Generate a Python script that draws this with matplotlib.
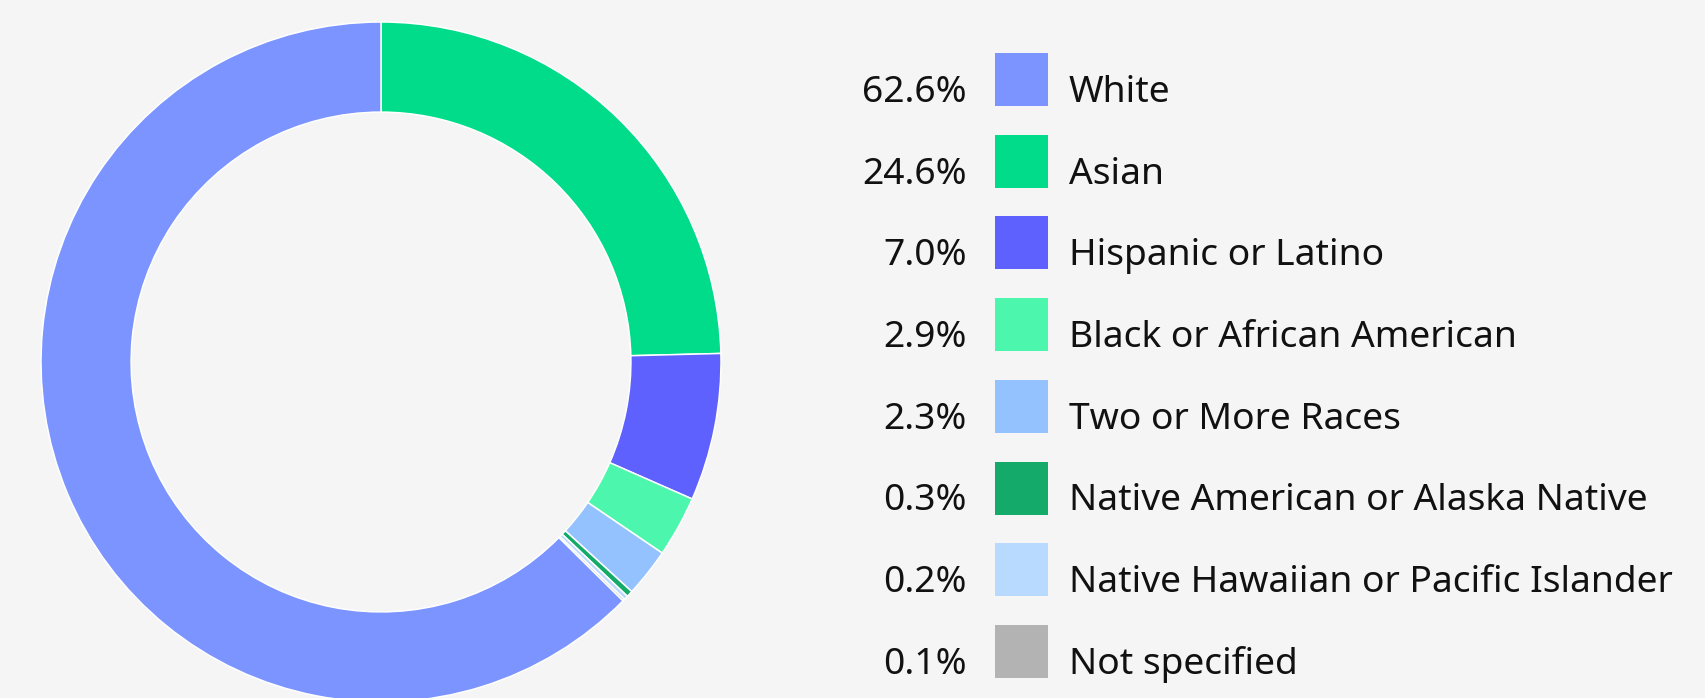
import matplotlib
matplotlib.use("Agg")
import matplotlib.pyplot as plt

categories = ["White", "Asian", "Hispanic or Latino", "Black or African American",
              "Two or More Races", "Native American or Alaska Native",
              "Native Hawaiian or Pacific Islander", "Not specified"]
values = [62.6, 24.6, 7.0, 2.9, 2.3, 0.3, 0.2, 0.1]
pct_labels = ["62.6%", "24.6%", "7.0%", "2.9%", "2.3%", "0.3%", "0.2%", "0.1%"]
colors = ["#7b94ff", "#00dc8a", "#5f61ff", "#4cf7ad", "#93c2ff", "#14aa6a", "#b9daff", "#b3b3b3"]

W, H = 1706, 698
bg = "#f5f5f5"
fig = plt.figure(figsize=(W / 100, H / 100), dpi=100, facecolor=bg)

cx, cy, r = 381, 362, 340
ax = fig.add_axes([(cx - r) / W, (H - cy - r) / H, 2 * r / W, 2 * r / H])
ax.set_facecolor(bg)
# pie order: clockwise from top starting with second category, White last
order = list(range(1, len(values))) + [0]
ax.pie([values[i] for i in order], colors=[colors[i] for i in order],
       startangle=90, counterclock=False, radius=1.0,
       wedgeprops=dict(width=0.265, edgecolor="white", linewidth=1.1))
ax.set_xlim(-1, 1)
ax.set_ylim(-1, 1)
ax.set_aspect("equal")
ax.axis("off")

font = "Noto Sans"
top0, pitch, sq = 53, 81.7, 53
for i, (lab, pct, col) in enumerate(zip(categories, pct_labels, colors)):
    top = top0 + i * pitch
    fig.patches.append(plt.Rectangle((995 / W, 1 - (top + sq) / H), sq / W, sq / H,
                                     transform=fig.transFigure, facecolor=col,
                                     edgecolor="none"))
    base = 1 - (top + 49) / H
    fig.text(967 / W, base, pct, ha="right", va="baseline", fontsize=26.8,
             family=font, color="#111111")
    fig.text(1069 / W, base, lab, ha="left", va="baseline", fontsize=26.8,
             family=font, color="#111111")

fig.savefig("out.png", dpi=100, facecolor=bg)
